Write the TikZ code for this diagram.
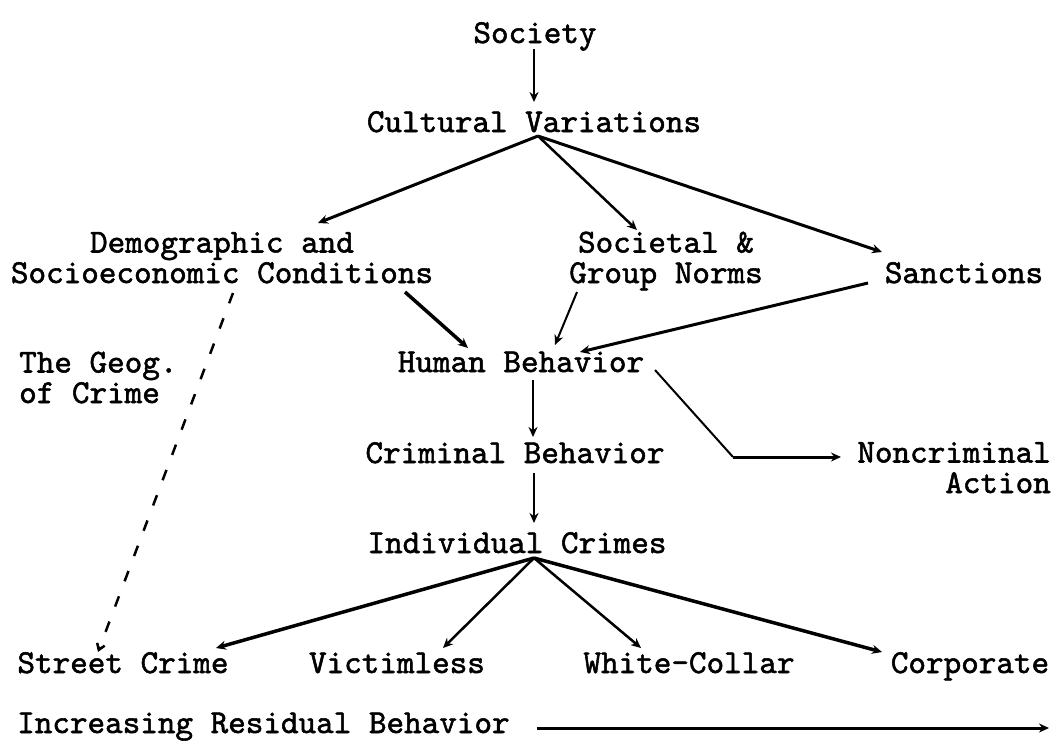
\documentclass[tikz,border=0pt]{standalone}
\usepackage{fontspec}
\usetikzlibrary{arrows.meta}
\newfontfamily\tw{lmmono10-regular.otf}[FakeBold=1.6]
\tikzset{
  lbl/.style={font=\fontsize{33.5}{30.5}\selectfont\tw, inner sep=0pt, anchor=base},
  conn/.style={-{Stealth[length=10pt,width=9pt]}, line width=2pt},
  heavy/.style={conn, line width=3pt},
  dashconn/.style={-{Straight Barb[length=6pt,width=8pt]}, line width=2.5pt, dash pattern=on 11pt off 16pt}
}
\begin{document}
\begin{tikzpicture}[x=1pt,y=-1pt]
\useasboundingbox (0,0) rectangle (1057,748);
% text nodes (multi-line nodes are placed by the baseline of their last line)
\node[lbl] (soc) at (535,43) {Society};
\node[lbl] (cv) at (534,132) {Cultural Variations};
\node[lbl, align=center] (demo) at (222,283) {Demographic and\\Socioeconomic Conditions};
\node[lbl, align=center] (norm) at (666,283) {Societal \&\\Group Norms};
\node[lbl] (sanc) at (964,283) {Sanctions};
\node[lbl, align=left, anchor=base west] (geo) at (19,403) {The Geog.\\of Crime};
\node[lbl] (hb) at (521,372) {Human Behavior};
\node[lbl] (crb) at (515,463) {Criminal Behavior};
\node[lbl, align=right, anchor=base east] (nc) at (1051,493) {Noncriminal\\Action};
\node[lbl] (ic) at (517,553) {Individual Crimes};
\node[lbl] (sc) at (123,673) {Street Crime};
\node[lbl] (vl) at (397,673) {Victimless};
\node[lbl] (wc) at (689,673) {White-Collar};
\node[lbl] (corp) at (970,673) {Corporate};
\node[lbl, anchor=base west] (irb) at (17,733) {Increasing Residual Behavior};
% connector end points
\coordinate (socS) at (534,49);
\coordinate (cvN) at (534,102);
\coordinate (cvS) at (538,136);
\coordinate (demoN) at (318,223);
\coordinate (normN) at (637,230);
\coordinate (sancN) at (882,252);
\coordinate (demoSE) at (405,292);
\coordinate (hbNW) at (468,348);
\coordinate (normS) at (577,292);
\coordinate (hbN) at (555,345);
\coordinate (sancSW) at (868,283);
\coordinate (hbNE) at (580,352);
\coordinate (hbS) at (533,380);
\coordinate (crbN) at (533,437);
\coordinate (hbE) at (655,370);
\coordinate (bend) at (733,457);
\coordinate (ncW) at (841,457);
\coordinate (crbS) at (534,473);
\coordinate (icN) at (534,523);
\coordinate (icS) at (534,558);
\coordinate (scN) at (216,648);
\coordinate (vlN) at (443,648);
\coordinate (wcN) at (641,648);
\coordinate (corpN) at (882,652);
\coordinate (demoS) at (233,293);
\coordinate (scNW) at (98,652);
\coordinate (irbE) at (537,728);
\coordinate (arrEnd) at (1049,728);
% connectors
\draw[conn, line width=2.5pt] (socS) -- (cvN);
\draw[heavy] (cvS) -- (demoN);
\draw[conn, line width=2.5pt] (cvS) -- (normN);
\draw[heavy] (cvS) -- (sancN);
\draw[heavy, line width=3.5pt] (demoSE) -- (hbNW);
\draw[conn] (normS) -- (hbN);
\draw[heavy] (sancSW) -- (hbNE);
\draw[conn] (hbS) -- (crbN);
\draw[line width=2pt] (hbE) -- (bend);
\draw[heavy] (bend) -- (ncW);
\draw[conn] (crbS) -- (icN);
\draw[heavy, line width=3.5pt] (icS) -- (scN);
\draw[conn, line width=2.5pt] (icS) -- (vlN);
\draw[conn, line width=2.5pt] (icS) -- (wcN);
\draw[heavy, line width=3.5pt] (icS) -- (corpN);
\draw[dashconn] (demoS) -- (scNW);
\draw[heavy] (irbE) -- (arrEnd);
\end{tikzpicture}
\end{document}
